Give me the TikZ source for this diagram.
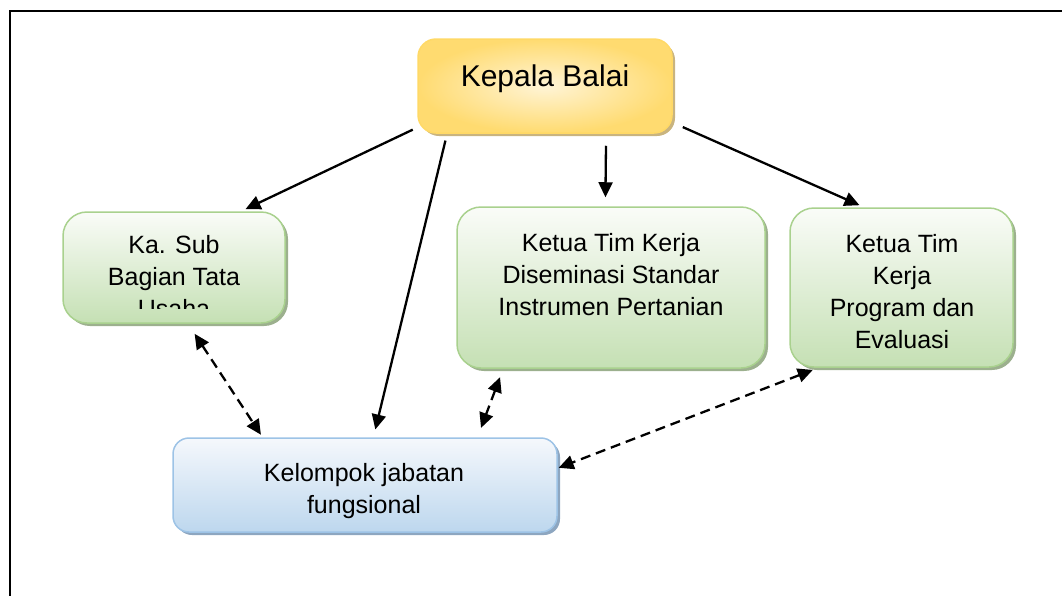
\documentclass[tikz,border=0pt]{standalone}
\usepackage{fontspec}
\setmainfont{Liberation Sans}
\usetikzlibrary{arrows.meta,shadows}
\definecolor{kuningtepi}{HTML}{FFD966}
\definecolor{kuningluar}{HTML}{FFDB70}
\definecolor{kuningmuda}{HTML}{FFF4D6}
\definecolor{kuningbayang}{HTML}{C9B47F}
\definecolor{hijautepi}{HTML}{A9D18E}
\definecolor{hijaumuda}{HTML}{FAFCF8}
\definecolor{hijautua}{HTML}{C5E0B4}
\definecolor{hijaubayang}{HTML}{9CB08E}
\definecolor{birutepi}{HTML}{9DC3E6}
\definecolor{birumuda}{HTML}{F5F8FC}
\definecolor{birutua}{HTML}{BDD7EE}
\definecolor{birubayang}{HTML}{8DA6C0}
\tikzset{
  kotak/.style={draw,line width=1.5pt,inner sep=0pt},
  kuning/.style={kotak,rounded corners=18pt,draw=kuningtepi,
    inner color=kuningmuda,outer color=kuningluar,
    drop shadow={shadow xshift=3pt,shadow yshift=-3pt,fill=kuningbayang,opacity=1}},
  hijau/.style={kotak,rounded corners=24pt,draw=hijautepi,
    top color=hijaumuda,bottom color=hijautua,
    drop shadow={shadow xshift=3pt,shadow yshift=-3pt,fill=hijaubayang,opacity=1}},
  biru/.style={kotak,rounded corners=16pt,draw=birutepi,
    top color=birumuda,bottom color=birutua,
    drop shadow={shadow xshift=3pt,shadow yshift=-3pt,fill=birubayang,opacity=1}},
  teks/.style={anchor=north,align=center,inner sep=0pt,font=\fontsize{25}{32}\selectfont},
  panah/.style={line width=2.3pt,-{Triangle[length=15pt,width=14pt]}},
  putus/.style={line width=2.3pt,dash pattern=on 10pt off 6pt,
    {Triangle[length=15pt,width=14pt]}-{Triangle[length=15pt,width=14pt]}}
}
\begin{document}
\begin{tikzpicture}[x=1pt,y=-1pt]
  \useasboundingbox (0,0) rectangle (1062,595);
  % bingkai
  \draw[line width=2pt] (10,600) -- (10,11) -- (1075,11);
  % kotak
  \node[kuning,minimum width=254pt,minimum height=94pt] (kepala) at (545,86) {};
  \node[hijau,minimum width=222pt,minimum height=111pt] (kasub) at (174,267.5) {};
  \node[hijau,minimum width=308pt,minimum height=161pt] (disem) at (611,287.5) {};
  \node[hijau,minimum width=223pt,minimum height=159pt] (prog) at (901.5,287.5) {};
  \node[biru,minimum width=384pt,minimum height=94pt] (kelompok) at (365,485) {};
  % teks
  \node[teks,font=\fontsize{30}{36}\selectfont] (kepala-teks) at (545,65) {Kepala Balai};
  \begin{scope}
    \clip (63,212) rectangle (285,308);
    \node[teks] (kasub-teks) at (174,235) {Ka. Sub\\Bagian Tata\\Usaha};
  \end{scope}
  \node[teks] (disem-teks) at (611,233) {Ketua Tim Kerja\\Diseminasi Standar\\Instrumen Pertanian};
  \node[teks] (prog-teks) at (902,234) {Ketua Tim\\Kerja\\Program dan\\Evaluasi};
  \node[teks] (kelompok-teks) at (364,463) {Kelompok jabatan\\fungsional};
  % garis komando
  \draw[panah,shorten <=5pt,shorten >=5pt] (kepala.198) -- (kasub.40);
  \draw[panah,shorten <=7pt,shorten >=8pt] (kepala.206) -- (kelompok.80);
  \draw[panah,shorten <=12pt,shorten >=9pt] (kepala.322) -- (disem.94);
  \draw[panah,shorten <=11pt,shorten >=5pt] (kepala.-16) -- (prog.115);
  % garis koordinasi
  \draw[putus,shorten <=12pt,shorten >=3pt] (kasub.284) -- (kelompok.155);
  \draw[putus,shorten <=9pt,shorten >=10pt] (disem.217) -- (kelompok.23);
  \draw[putus,shorten <=6pt,shorten >=1pt] (prog.224) -- (kelompok.5);
\end{tikzpicture}
\end{document}
